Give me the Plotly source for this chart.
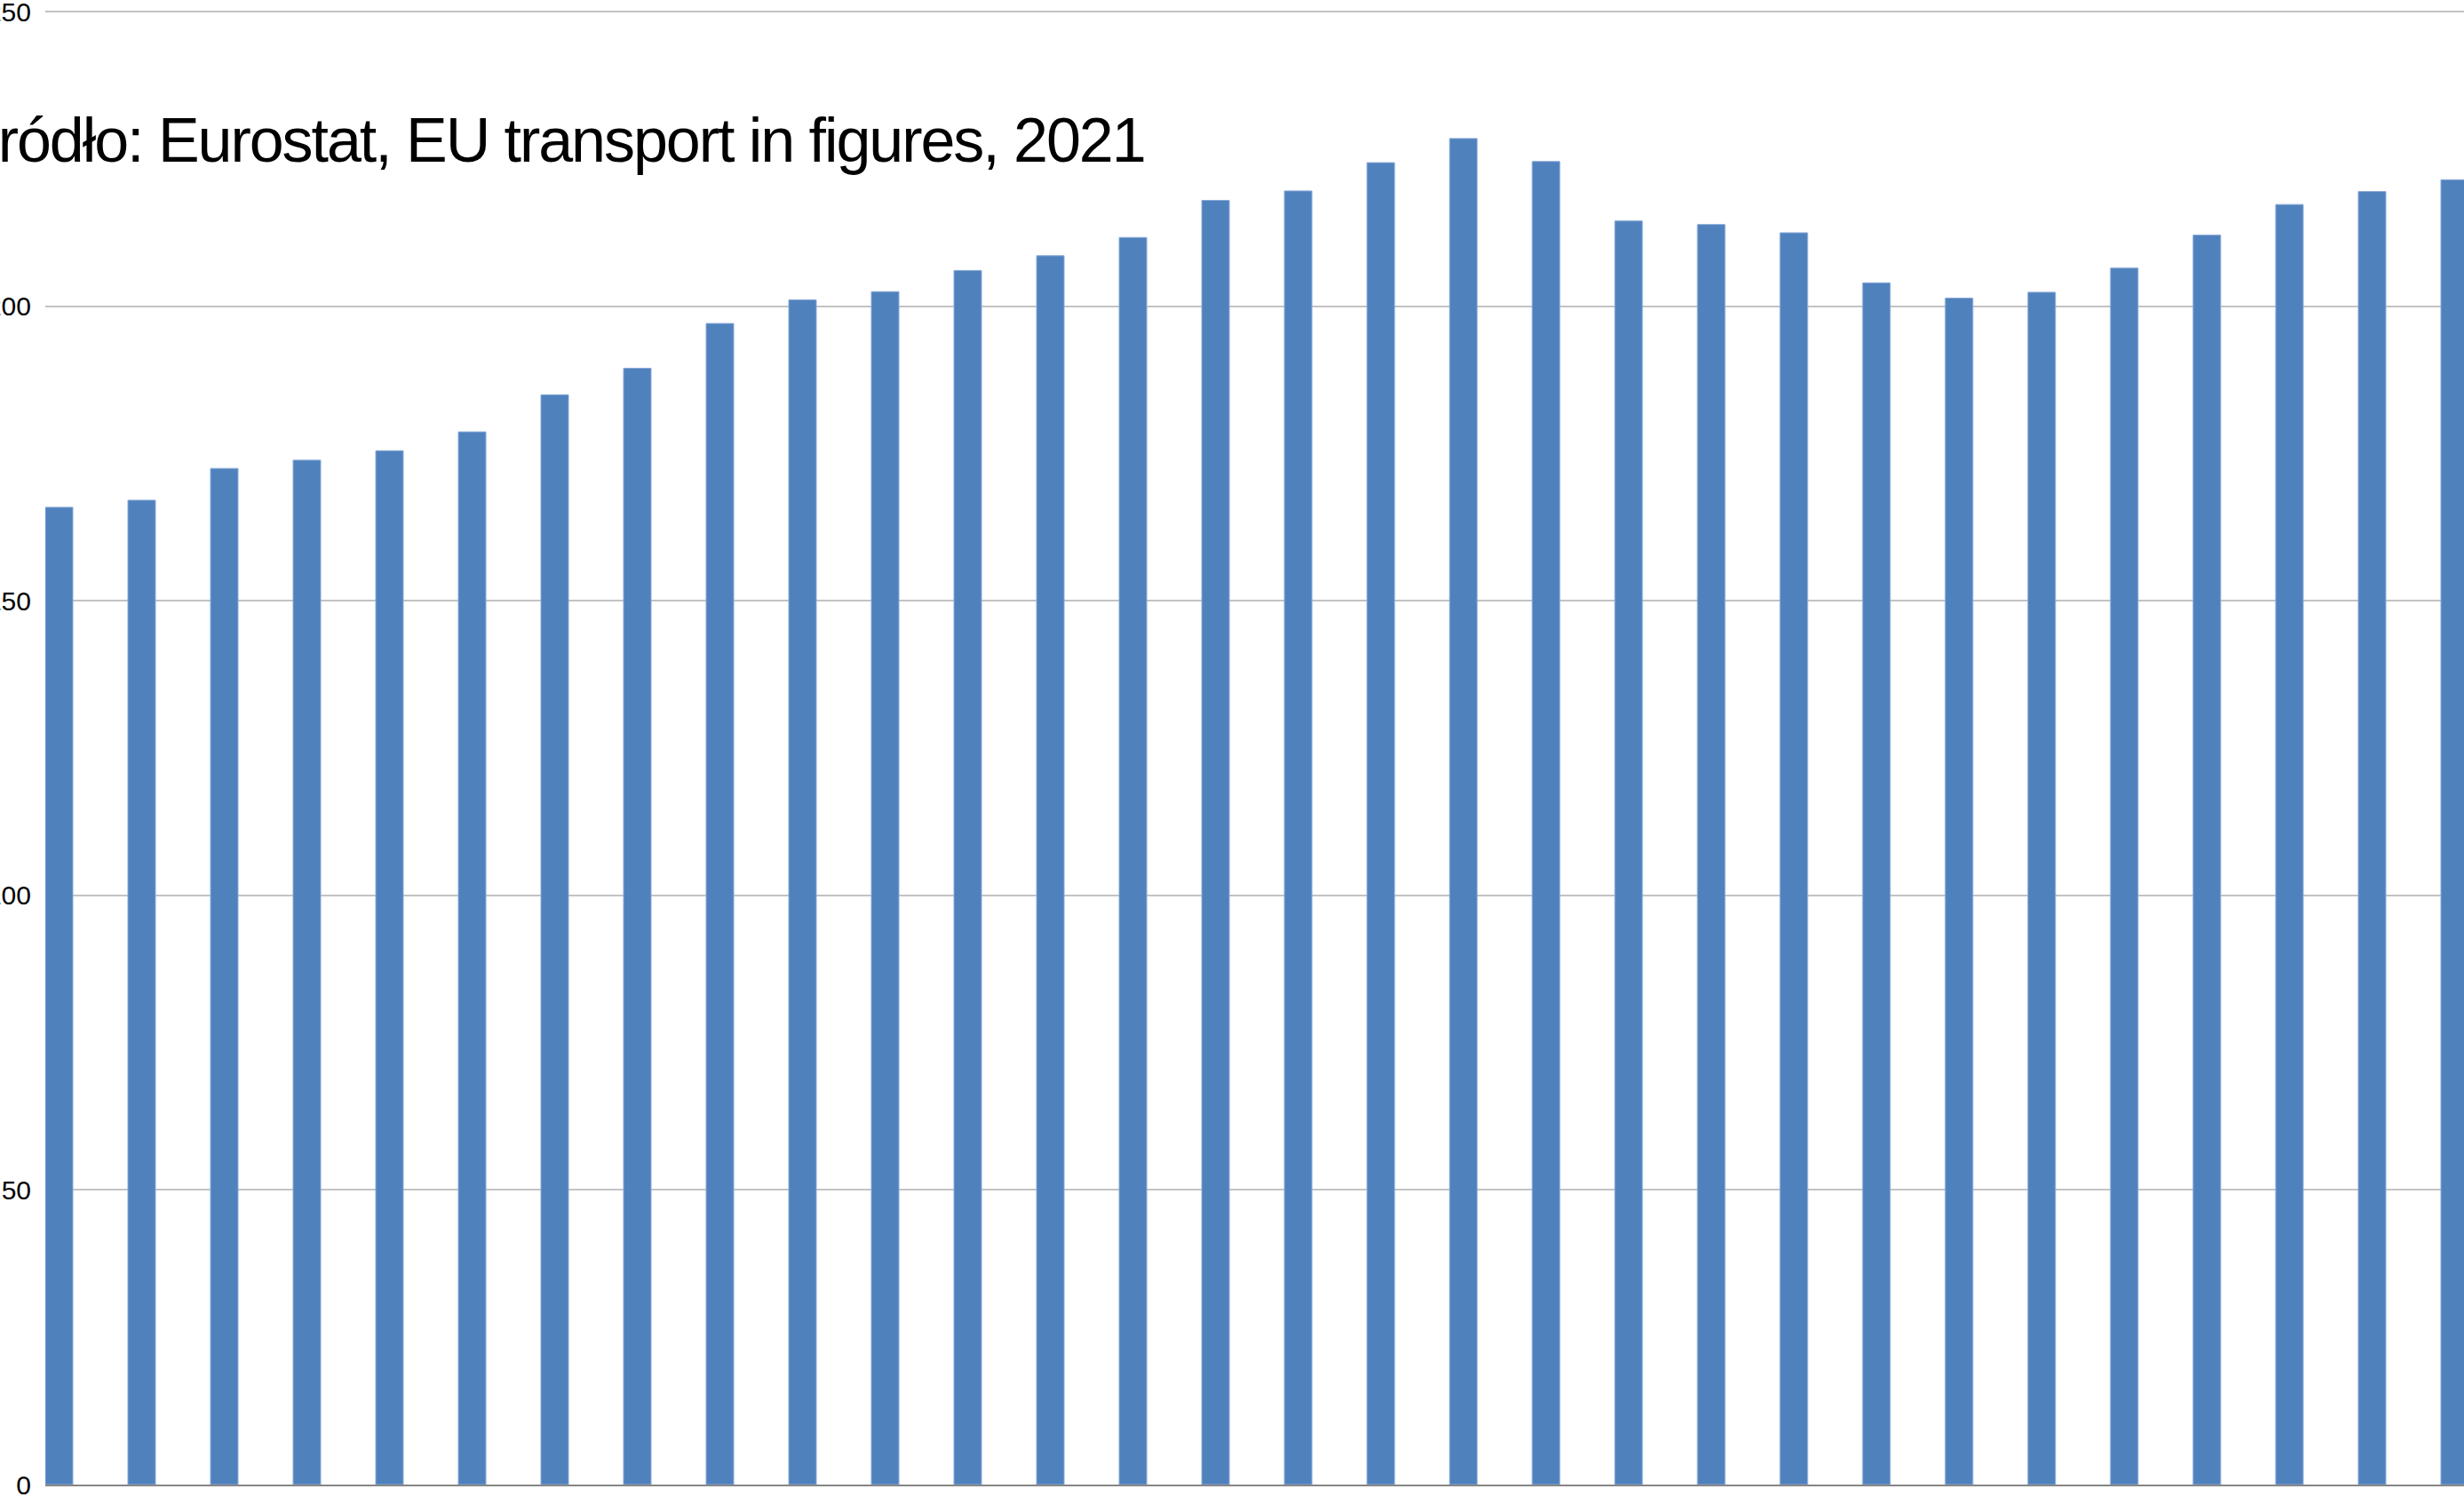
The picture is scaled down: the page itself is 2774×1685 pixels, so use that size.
import plotly.graph_objects as go

years = list(range(1990, 2020))
values = [165.9, 167.1, 172.5, 173.9, 175.5, 178.7, 185.0, 189.5, 197.1, 201.1,
          202.5, 206.1, 208.6, 211.7, 218.0, 219.6, 224.4, 228.5, 224.6, 214.5,
          213.9, 212.5, 204.0, 201.4, 202.4, 206.5, 212.1, 217.3, 219.5, 221.5]
y_ticks = [0, 50, 100, 150, 200, 250]
title_text = "Źródło: Eurostat, EU transport in figures, 2021"

fig = go.Figure()
fig.add_trace(go.Bar(
    x=years, y=values, width=1/3,
    marker=dict(color="#4F81BD", line=dict(color="#8AAAD8", width=1)),
))

fig.update_layout(
    width=2774, height=1685, autosize=False,
    margin=dict(l=51, r=0, t=12, b=14, pad=0),
    plot_bgcolor="white", paper_bgcolor="white",
    showlegend=False,
    font=dict(family="Liberation Sans, Arial, sans-serif", color="black"),
    xaxis=dict(range=[1990 - 1/6, 1990 - 1/6 + 2723/93], showticklabels=False,
               showgrid=False, zeroline=False, showline=True,
               linecolor="#868686", linewidth=2, ticks=""),
    yaxis=dict(range=[0, 250.2], tickvals=y_ticks, showgrid=True,
               gridcolor="#C3C3C3", gridwidth=2, zeroline=False, showline=False,
               ticks="", tickfont=dict(size=30, color="black"),
               ticklabelstandoff=15, ticklabeloverflow="allow", automargin=False),
    annotations=[dict(
        text='<span style="letter-spacing:-2.05px">' + title_text + '</span>',
        xref="paper", x=0, xshift=-96, xanchor="left",
        yref="y", y=228.2, yanchor="middle", showarrow=False,
        font=dict(size=70, color="black", family="Liberation Sans, Arial, sans-serif"),
    )],
)

fig.write_html("out.html")
